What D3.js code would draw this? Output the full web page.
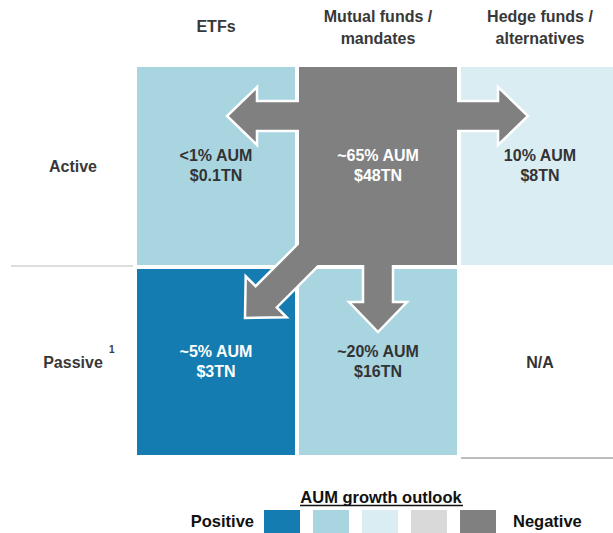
<!DOCTYPE html>
<html>
  <head>
    <script src="https://d3js.org/d3.v7.min.js" charset="utf-8"></script>
    <meta charset="UTF-8">
    <title>AUM growth outlook</title>
    <style>
     body { margin: 0; background: #fff; }
     text { font-family: "Liberation Sans", Arial, sans-serif; font-weight: bold; }
    </style>
  </head>
  <body>
    <svg class="chart"></svg>
    <script type="text/javascript">

     var width = 613,
         height = 533;

     // data
     var columns = ["ETFs", "Mutual funds / mandates", "Hedge funds / alternatives"];
     var columnLabels = [["ETFs"], ["Mutual funds /", "mandates"], ["Hedge funds /", "alternatives"]];
     var rows = ["Active", "Passive"];
     var rowNotes = ["", "1"];
     var shares = [["<1% AUM", "~65% AUM", "10% AUM"],
                   ["~5% AUM", "~20% AUM", "N/A"]];
     var assets = [["$0.1TN", "$48TN", "$8TN"],
                   ["$3TN", "$16TN", ""]];
     // 0 = most positive ... 4 = most negative, null = not applicable
     var outlook = [[1, 4, 2],
                    [0, 1, null]];
     var outlookLevels = [0, 1, 2, 3, 4];
     var flows = [{"from": [0, 1], "to": [0, 0]},
                  {"from": [0, 1], "to": [0, 2]},
                  {"from": [0, 1], "to": [1, 1]},
                  {"from": [0, 1], "to": [1, 0]}];

     var color = d3.scaleOrdinal()
                   .domain(outlookLevels)
                   .range(["#147cb1", "#a8d5e0", "#daedf3", "#d9d9d9", "#808080"]);

     var x = d3.scaleBand()
               .domain(d3.range(columns.length))
               .range([137, 619])
               .paddingInner(4 / 162);

     var rowTop = d3.scaleOrdinal().domain([0, 1]).range([67, 269]);
     var rowHeight = d3.scaleOrdinal().domain([0, 1]).range([198, 186]);

     var cells = [];
     rows.forEach(function(r, i) {
         columns.forEach(function(c, j) {
             cells.push({"row": i, "col": j, "share": shares[i][j],
                         "aum": assets[i][j], "level": outlook[i][j]});
         });
     });

     var chart = d3.select(".chart")
                   .attr("width", width)
                   .attr("height", height);

     // column headers
     chart.append('g')
          .selectAll('text')
          .data(columnLabels)
          .enter().append('text')
          .attr("text-anchor", "middle")
          .attr("fill", "#383838")
          .style("font-size", "16px")
          .attr("x", function(d, i) { return x(i) + x.bandwidth() / 2; })
          .attr("y", function(d) { return d.length == 1 ? 32 : 22; })
          .each(function(d) {
              var t = d3.select(this);
              d.forEach(function(line, k) {
                  t.append('tspan')
                   .attr("x", t.attr("x"))
                   .attr("dy", k == 0 ? 0 : 21.5)
                   .text(line);
              });
          });

     // row labels
     var rowLabels = chart.append('g')
                          .selectAll('text')
                          .data(rows)
                          .enter().append('text')
                          .attr("text-anchor", "middle")
                          .attr("fill", "#383838")
                          .style("font-size", "16px")
                          .attr("x", 73)
                          .attr("y", function(d, i) { return rowTop(i) + rowHeight(i) / 2 + 6; })
                          .text(function(d) { return d; });

     chart.append('g')
          .selectAll('text')
          .data(rowNotes)
          .enter().append('text')
          .attr("fill", "#383838")
          .style("font-size", "10px")
          .attr("x", 109)
          .attr("y", function(d, i) { return rowTop(i) + rowHeight(i) / 2 - 9; })
          .text(function(d) { return d; });

     // separators
     chart.append('line')
          .attr("x1", 11).attr("x2", 133)
          .attr("y1", rowTop(1) - 3).attr("y2", rowTop(1) - 3)
          .attr("stroke", "#dedede")
          .attr("stroke-width", 2);

     chart.append('line')
          .attr("x1", x(2)).attr("x2", width)
          .attr("y1", rowTop(1) + rowHeight(1) + 3).attr("y2", rowTop(1) + rowHeight(1) + 3)
          .attr("stroke", "#bdbdbd")
          .attr("stroke-width", 2);

     // cells
     chart.append('g')
          .attr("class", "cells")
          .selectAll('rect')
          .data(cells.filter(function(d) { return d.level !== null; }))
          .enter().append('rect')
          .attr("x", function(d) { return x(d.col); })
          .attr("y", function(d) { return rowTop(d.row); })
          .attr("width", x.bandwidth())
          .attr("height", function(d) { return rowHeight(d.row); })
          .attr("fill", function(d) { return color(d.level); });

     // flow arrows out of the source cell
     var stemHalf = 15,
         headHalf = 29,
         headLen = 30,
         arrowLen = 130;

     function tip(f) {
         var r = f.from[0], c = f.from[1];
         var dr = f.to[0] - r, dc = f.to[1] - c;
         var left = x(c), right = x(c) + x.bandwidth(), top = rowTop(r), bottom = top + rowHeight(r);
         if (dr == 0) return [dc < 0 ? left - 72 : right + 71, top + 49];
         if (dc == 0) return [left + x.bandwidth() / 2, bottom + 67];
         return [left - 54, bottom + 53];
     }

     function arrowPath(f) {
         var t = tip(f);
         var dr = f.to[0] - f.from[0], dc = f.to[1] - f.from[1];
         var n = Math.sqrt(dr * dr + dc * dc);
         var ux = dc / n, uy = dr / n, px = -uy, py = ux;
         var sx = t[0] - ux * arrowLen, sy = t[1] - uy * arrowLen;
         var L = arrowLen;
         var pts = [[0, -stemHalf], [L - headLen, -stemHalf], [L - headLen, -headHalf], [L, 0],
                    [L - headLen, headHalf], [L - headLen, stemHalf], [0, stemHalf]];
         return "M" + pts.map(function(p) {
             return (sx + ux * p[0] + px * p[1]) + "," + (sy + uy * p[0] + py * p[1]);
         }).join("L") + "Z";
     }

     chart.append('g')
          .attr("class", "arrows")
          .selectAll('path')
          .data(flows)
          .enter().append('path')
          .attr("d", arrowPath)
          .attr("fill", color(4))
          .attr("stroke", "#fff")
          .attr("stroke-width", 2.5)
          .attr("stroke-linejoin", "miter");

     // cover the arrow roots with the source cell
     chart.append('rect')
          .attr("x", x(flows[0].from[1]))
          .attr("y", rowTop(flows[0].from[0]))
          .attr("width", x.bandwidth())
          .attr("height", rowHeight(flows[0].from[0]))
          .attr("fill", color(outlook[flows[0].from[0]][flows[0].from[1]]));

     // cell labels
     function textColor(d) { return (d.level === 0 || d.level === 4) ? "#fff" : "#333"; }

     var labels = chart.append('g')
                       .attr("class", "labels")
                       .selectAll('text')
                       .data(cells)
                       .enter().append('text')
                       .attr("text-anchor", "middle")
                       .style("font-size", "16px")
                       .attr("fill", textColor)
                       .attr("x", function(d) { return x(d.col) + x.bandwidth() / 2; })
                       .attr("y", function(d) {
                           var mid = rowTop(d.row) + rowHeight(d.row) / 2;
                           return d.aum ? mid - 5 : mid + 6;
                       })
                       .each(function(d) {
                           var t = d3.select(this);
                           t.append('tspan').attr("x", t.attr("x")).text(d.share);
                           if (d.aum) t.append('tspan').attr("x", t.attr("x")).attr("dy", 20).text(d.aum);
                       });

     // legend
     var legend = chart.append('g').attr("class", "legend");

     legend.append('text')
           .attr("text-anchor", "middle")
           .attr("fill", "#111")
           .style("font-size", "16.5px")
           .attr("x", 381)
           .attr("y", 503)
           .text("AUM growth outlook");

     legend.append('line')
           .attr("x1", 300).attr("x2", 463)
           .attr("y1", 505.5).attr("y2", 505.5)
           .attr("stroke", "#111")
           .attr("stroke-width", 1.5);

     var lx = d3.scaleLinear().domain([0, 4]).range([264, 460]);

     legend.selectAll('rect')
           .data(outlookLevels)
           .enter().append('rect')
           .attr("x", function(d) { return lx(d); })
           .attr("y", 510)
           .attr("width", 36)
           .attr("height", 24)
           .attr("fill", function(d) { return color(d); });

     legend.append('text')
           .attr("text-anchor", "end")
           .attr("fill", "#111")
           .style("font-size", "16.5px")
           .attr("x", 254)
           .attr("y", 527)
           .text("Positive");

     legend.append('text')
           .attr("fill", "#111")
           .style("font-size", "16.5px")
           .attr("x", 513)
           .attr("y", 527)
           .text("Negative");

    </script>
  </body>
</html>
